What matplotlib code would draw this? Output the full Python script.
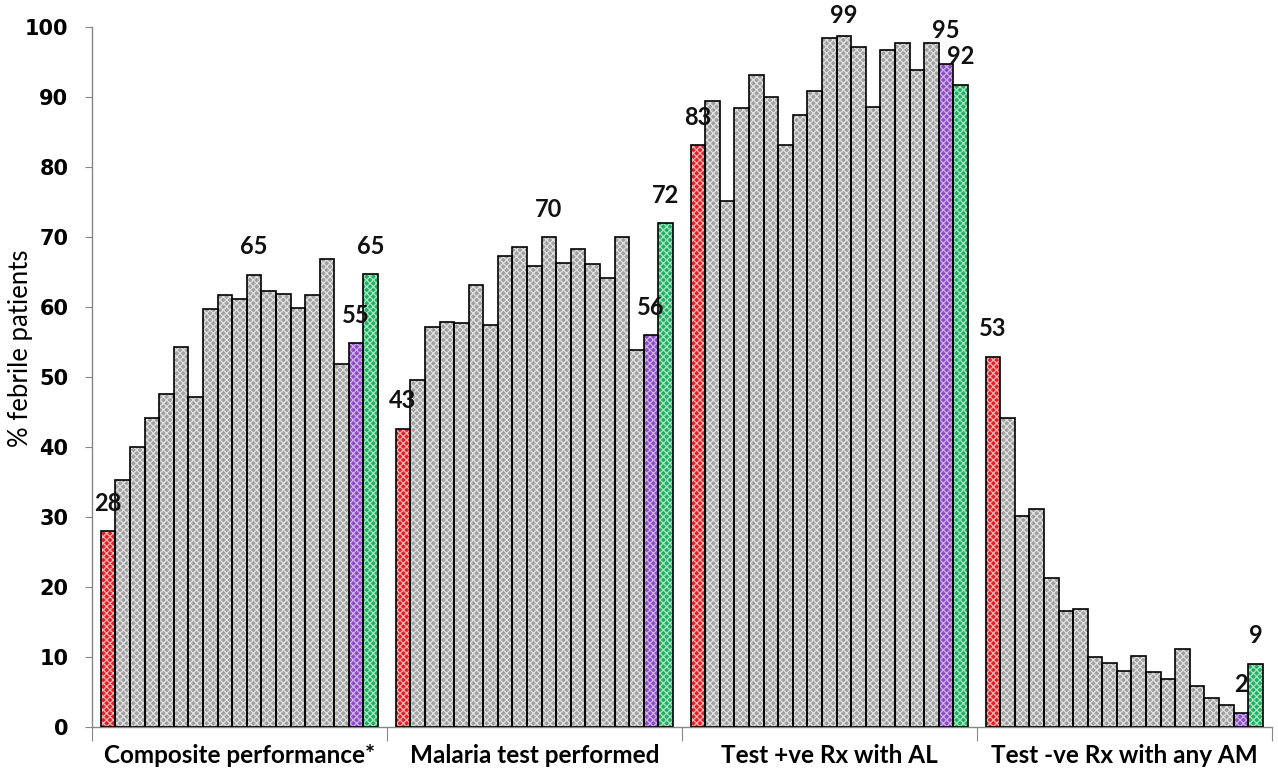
import numpy as np
import matplotlib.pyplot as plt

# categories and bar values (first = red, last two = purple and green)
categories = ['Composite performance*', 'Malaria test performed',
              'Test +ve Rx with AL', 'Test -ve Rx with any AM']

composite = [28.0, 35.3, 40.0, 44.1, 47.6, 54.3, 47.2, 59.7, 61.7, 61.1, 64.6,
             62.3, 61.9, 59.9, 61.7, 66.8, 51.9, 54.8, 64.7]
test_done = [42.6, 49.6, 57.1, 57.8, 57.7, 63.2, 57.4, 67.3, 68.6, 65.9, 70.0,
             66.3, 68.3, 66.1, 64.1, 70.0, 53.9, 56.0, 72.0]
pos_al = [83.1, 89.4, 75.1, 88.4, 93.1, 90.0, 83.1, 87.4, 90.9, 98.4, 98.8,
          97.1, 88.6, 96.7, 97.8, 93.9, 97.8, 94.7, 91.8]
neg_am = [52.9, 44.2, 30.2, 31.2, 21.3, 16.6, 16.9, 10.0, 9.1, 8.0, 10.2,
          7.8, 6.9, 11.1, 5.9, 4.1, 3.1, 2.0, 9.0]

# which bars get a value label in each group
labelled = [[0, 10, 17, 18], [0, 10, 17, 18], [0, 10, 17, 18], [0, 17, 18]]

yticks = list(range(0, 101, 10))

series = [composite, test_done, pos_al, neg_am]
n = len(composite)

# face colour, hatch colour per bar kind
red = ('#e31e24', '#f7b3b3')
grey = ('#a0a0a0', '#e0e0e0')
purple = ('#8b4cc4', '#cfb0ea')
green = ('#1fae62', '#a8e6c3')
styles = [red] + [grey] * (n - 3) + [purple, green]

plt.rcParams['hatch.linewidth'] = 0.9

fig = plt.figure(figsize=(12.78, 7.75), dpi=100)
ax = fig.add_axes([0.072, 0.062, 0.923, 0.903])

span = 0.94
w = span / n
for g, vals in enumerate(series):
    xs = g - span / 2 + w / 2 + np.arange(n) * w
    for i, (x, v) in enumerate(zip(xs, vals)):
        fc, hc = styles[i]
        ax.bar(x, v, width=w, color=fc, edgecolor=hc, linewidth=0, hatch='xxxxx', zorder=2)
        ax.bar(x, v, width=w, fill=False, edgecolor='black', linewidth=1.2, zorder=3)
    for i in labelled[g]:
        ty = min(vals[i] + 4.0, 101.7)
        if g == 2 and i == 17:
            ty += 0.8
        ax.text(xs[i], ty, f'{vals[i]:.0f}', ha='center', va='center',
                fontsize=17, fontweight='bold', family='Lato', color='#111111',
                clip_on=False, zorder=5)

ax.set_xlim(-0.5, 3.5)
ax.set_ylim(0, 100)
ax.set_yticks(yticks)
ax.set_yticklabels([str(t) for t in yticks], fontsize=15, fontweight='bold')
ax.set_xticks(np.arange(-0.5, 4, 1))
ax.set_xticklabels([])
ax.set_xticks(np.arange(4), minor=True)
ax.set_xticklabels(categories, minor=True, fontsize=17.5, fontweight='bold', family='Lato')
ax.tick_params(axis='x', which='major', length=10, color='#868686', direction='out')
ax.tick_params(axis='x', which='minor', length=0, pad=12)
ax.tick_params(axis='y', length=5, color='#868686', pad=12)

for s in ['top', 'right']:
    ax.spines[s].set_visible(False)
for s in ['left', 'bottom']:
    ax.spines[s].set_color('#868686')
    ax.spines[s].set_linewidth(1.0)

ax.set_ylabel('% febrile patients', fontsize=18.5, family='Lato')
ax.yaxis.set_label_coords(-0.050, 0.541)

fig.savefig('out.png', dpi=100)
